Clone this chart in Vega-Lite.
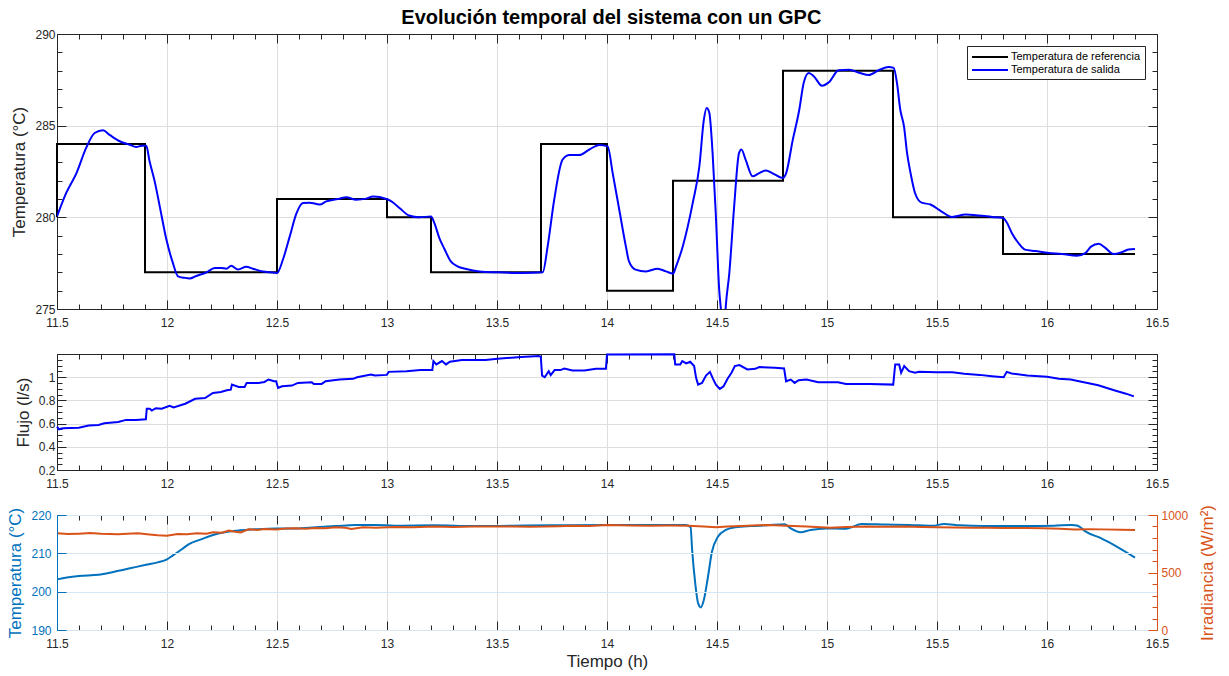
{
  "$schema": "https://vega.github.io/schema/vega-lite/v6.json",
  "padding": {"left": 6, "top": 8, "right": 4, "bottom": 4},
  "title": {"text": "Evolución temporal del sistema con un GPC", "font": "Liberation Sans", "fontSize": 20, "fontWeight": "bold", "color": "#000000", "anchor": "middle", "offset": 0},
  "bounds": "flush",
  "spacing": 45,
  "datasets": {
    "ref": [
      {"t": 11.5, "T": 280}, {"t": 11.5, "T": 284}, {"t": 11.9, "T": 277}, {"t": 12.5, "T": 281}, {"t": 13.0, "T": 280}, {"t": 13.2, "T": 277}, {"t": 13.7, "T": 284}, {"t": 14.0, "T": 276}, {"t": 14.3, "T": 282}, {"t": 14.8, "T": 288}, {"t": 15.3, "T": 280}, {"t": 15.8, "T": 278}, {"t": 16.4, "T": 278}
    ],
    "salida": [
      {"t": 11.5, "T": 280.05}, {"t": 11.542, "T": 281.33}, {"t": 11.588, "T": 282.4}, {"t": 11.633, "T": 283.8}, {"t": 11.671, "T": 284.6}, {"t": 11.709, "T": 284.75}, {"t": 11.739, "T": 284.5}, {"t": 11.785, "T": 284.15}, {"t": 11.83, "T": 283.96}, {"t": 11.86, "T": 283.84}, {"t": 11.885, "T": 283.9}, {"t": 11.906, "T": 283.9}, {"t": 11.92, "T": 283.1}, {"t": 11.944, "T": 281.96}, {"t": 11.967, "T": 280.6}, {"t": 11.997, "T": 278.8}, {"t": 12.027, "T": 277.5}, {"t": 12.05, "T": 276.78}, {"t": 12.08, "T": 276.7}, {"t": 12.103, "T": 276.67}, {"t": 12.133, "T": 276.8}, {"t": 12.18, "T": 277.0}, {"t": 12.217, "T": 277.24}, {"t": 12.247, "T": 277.24}, {"t": 12.27, "T": 277.2}, {"t": 12.292, "T": 277.36}, {"t": 12.323, "T": 277.15}, {"t": 12.36, "T": 277.3}, {"t": 12.39, "T": 277.2}, {"t": 12.436, "T": 277.05}, {"t": 12.467, "T": 277.0}, {"t": 12.5, "T": 276.96}, {"t": 12.527, "T": 277.7}, {"t": 12.558, "T": 278.96}, {"t": 12.588, "T": 280.2}, {"t": 12.618, "T": 280.78}, {"t": 12.648, "T": 280.8}, {"t": 12.694, "T": 280.7}, {"t": 12.724, "T": 280.87}, {"t": 12.785, "T": 281.02}, {"t": 12.815, "T": 281.1}, {"t": 12.86, "T": 280.96}, {"t": 12.906, "T": 281.02}, {"t": 12.936, "T": 281.13}, {"t": 12.997, "T": 281.0}, {"t": 13.02, "T": 280.87}, {"t": 13.058, "T": 280.5}, {"t": 13.1, "T": 280.1}, {"t": 13.147, "T": 280.0}, {"t": 13.2, "T": 280.05}, {"t": 13.215, "T": 279.7}, {"t": 13.238, "T": 278.87}, {"t": 13.26, "T": 278.3}, {"t": 13.29, "T": 277.6}, {"t": 13.32, "T": 277.33}, {"t": 13.36, "T": 277.18}, {"t": 13.42, "T": 277.05}, {"t": 13.51, "T": 277.0}, {"t": 13.617, "T": 276.96}, {"t": 13.708, "T": 277.0}, {"t": 13.73, "T": 278.4}, {"t": 13.76, "T": 280.96}, {"t": 13.798, "T": 283.15}, {"t": 13.83, "T": 283.4}, {"t": 13.874, "T": 283.4}, {"t": 13.92, "T": 283.7}, {"t": 13.965, "T": 283.95}, {"t": 14.003, "T": 283.87}, {"t": 14.026, "T": 282.4}, {"t": 14.056, "T": 280.4}, {"t": 14.086, "T": 278.4}, {"t": 14.1, "T": 277.6}, {"t": 14.13, "T": 277.15}, {"t": 14.177, "T": 277.05}, {"t": 14.23, "T": 277.2}, {"t": 14.268, "T": 277.05}, {"t": 14.3, "T": 276.93}, {"t": 14.314, "T": 277.33}, {"t": 14.344, "T": 278.4}, {"t": 14.39, "T": 280.8}, {"t": 14.42, "T": 282.8}, {"t": 14.44, "T": 285.3}, {"t": 14.453, "T": 285.96}, {"t": 14.465, "T": 285.7}, {"t": 14.48, "T": 283.5}, {"t": 14.495, "T": 280.05}, {"t": 14.51, "T": 276.05}, {"t": 14.518, "T": 274.96}, {"t": 14.527, "T": 273.8}, {"t": 14.535, "T": 274.2}, {"t": 14.54, "T": 275.15}, {"t": 14.556, "T": 276.96}, {"t": 14.578, "T": 280.6}, {"t": 14.6, "T": 283.5}, {"t": 14.611, "T": 283.7}, {"t": 14.63, "T": 283.15}, {"t": 14.662, "T": 282.24}, {"t": 14.69, "T": 282.4}, {"t": 14.723, "T": 282.56}, {"t": 14.753, "T": 282.4}, {"t": 14.799, "T": 282.15}, {"t": 14.814, "T": 282.4}, {"t": 14.844, "T": 284.2}, {"t": 14.874, "T": 285.87}, {"t": 14.894, "T": 287.33}, {"t": 14.917, "T": 287.87}, {"t": 14.94, "T": 287.7}, {"t": 14.977, "T": 287.18}, {"t": 15.008, "T": 287.36}, {"t": 15.053, "T": 288.02}, {"t": 15.1, "T": 288.05}, {"t": 15.15, "T": 287.87}, {"t": 15.19, "T": 287.76}, {"t": 15.235, "T": 288.02}, {"t": 15.28, "T": 288.2}, {"t": 15.303, "T": 288.15}, {"t": 15.318, "T": 287.33}, {"t": 15.333, "T": 285.87}, {"t": 15.35, "T": 284.96}, {"t": 15.364, "T": 283.5}, {"t": 15.38, "T": 282.4}, {"t": 15.4, "T": 281.33}, {"t": 15.43, "T": 280.8}, {"t": 15.47, "T": 280.7}, {"t": 15.523, "T": 280.3}, {"t": 15.568, "T": 280.02}, {"t": 15.63, "T": 280.15}, {"t": 15.69, "T": 280.1}, {"t": 15.75, "T": 280.02}, {"t": 15.8, "T": 279.96}, {"t": 15.818, "T": 279.7}, {"t": 15.84, "T": 279.15}, {"t": 15.87, "T": 278.6}, {"t": 15.9, "T": 278.24}, {"t": 15.947, "T": 278.16}, {"t": 16.008, "T": 278.05}, {"t": 16.068, "T": 278.0}, {"t": 16.136, "T": 277.9}, {"t": 16.174, "T": 278.05}, {"t": 16.2, "T": 278.4}, {"t": 16.235, "T": 278.56}, {"t": 16.265, "T": 278.33}, {"t": 16.303, "T": 278.0}, {"t": 16.34, "T": 278.1}, {"t": 16.37, "T": 278.24}, {"t": 16.4, "T": 278.27}
    ],
    "flujo": [
      {"t": 11.5, "F": 0.574}, {"t": 11.509, "F": 0.551}, {"t": 11.527, "F": 0.559}, {"t": 11.599, "F": 0.565}, {"t": 11.644, "F": 0.583}, {"t": 11.689, "F": 0.588}, {"t": 11.715, "F": 0.603}, {"t": 11.778, "F": 0.614}, {"t": 11.814, "F": 0.632}, {"t": 11.859, "F": 0.632}, {"t": 11.904, "F": 0.638}, {"t": 11.908, "F": 0.728}, {"t": 11.922, "F": 0.728}, {"t": 11.931, "F": 0.713}, {"t": 11.949, "F": 0.733}, {"t": 11.976, "F": 0.728}, {"t": 12.012, "F": 0.754}, {"t": 12.03, "F": 0.739}, {"t": 12.083, "F": 0.771}, {"t": 12.128, "F": 0.814}, {"t": 12.173, "F": 0.82}, {"t": 12.209, "F": 0.864}, {"t": 12.245, "F": 0.872}, {"t": 12.272, "F": 0.887}, {"t": 12.29, "F": 0.893}, {"t": 12.295, "F": 0.936}, {"t": 12.326, "F": 0.916}, {"t": 12.353, "F": 0.916}, {"t": 12.362, "F": 0.951}, {"t": 12.416, "F": 0.951}, {"t": 12.443, "F": 0.959}, {"t": 12.461, "F": 0.98}, {"t": 12.487, "F": 0.965}, {"t": 12.496, "F": 0.965}, {"t": 12.505, "F": 0.907}, {"t": 12.523, "F": 0.922}, {"t": 12.568, "F": 0.928}, {"t": 12.595, "F": 0.951}, {"t": 12.658, "F": 0.957}, {"t": 12.667, "F": 0.942}, {"t": 12.703, "F": 0.942}, {"t": 12.721, "F": 0.965}, {"t": 12.784, "F": 0.98}, {"t": 12.846, "F": 0.986}, {"t": 12.864, "F": 1.0}, {"t": 12.927, "F": 1.023}, {"t": 12.945, "F": 1.014}, {"t": 12.999, "F": 1.02}, {"t": 13.008, "F": 1.046}, {"t": 13.089, "F": 1.052}, {"t": 13.152, "F": 1.061}, {"t": 13.206, "F": 1.061}, {"t": 13.211, "F": 1.139}, {"t": 13.224, "F": 1.11}, {"t": 13.25, "F": 1.139}, {"t": 13.268, "F": 1.11}, {"t": 13.286, "F": 1.133}, {"t": 13.34, "F": 1.148}, {"t": 13.448, "F": 1.148}, {"t": 13.502, "F": 1.159}, {"t": 13.61, "F": 1.174}, {"t": 13.69, "F": 1.183}, {"t": 13.699, "F": 1.177}, {"t": 13.705, "F": 1.014}, {"t": 13.717, "F": 1.0}, {"t": 13.735, "F": 1.052}, {"t": 13.744, "F": 1.017}, {"t": 13.762, "F": 1.061}, {"t": 13.788, "F": 1.061}, {"t": 13.806, "F": 1.075}, {"t": 13.843, "F": 1.058}, {"t": 13.897, "F": 1.058}, {"t": 13.95, "F": 1.072}, {"t": 13.995, "F": 1.072}, {"t": 14.0, "F": 1.196}, {"t": 14.306, "F": 1.197}, {"t": 14.31, "F": 1.11}, {"t": 14.333, "F": 1.11}, {"t": 14.342, "F": 1.139}, {"t": 14.36, "F": 1.119}, {"t": 14.378, "F": 1.133}, {"t": 14.396, "F": 1.096}, {"t": 14.405, "F": 0.994}, {"t": 14.414, "F": 0.936}, {"t": 14.432, "F": 0.951}, {"t": 14.45, "F": 1.014}, {"t": 14.468, "F": 1.046}, {"t": 14.482, "F": 0.986}, {"t": 14.495, "F": 0.936}, {"t": 14.513, "F": 0.899}, {"t": 14.53, "F": 0.922}, {"t": 14.548, "F": 0.986}, {"t": 14.566, "F": 1.038}, {"t": 14.581, "F": 1.096}, {"t": 14.602, "F": 1.104}, {"t": 14.638, "F": 1.067}, {"t": 14.674, "F": 1.072}, {"t": 14.692, "F": 1.087}, {"t": 14.763, "F": 1.081}, {"t": 14.805, "F": 1.075}, {"t": 14.814, "F": 0.965}, {"t": 14.835, "F": 0.98}, {"t": 14.853, "F": 0.951}, {"t": 14.871, "F": 0.974}, {"t": 14.907, "F": 0.98}, {"t": 14.96, "F": 0.957}, {"t": 15.05, "F": 0.957}, {"t": 15.086, "F": 0.942}, {"t": 15.194, "F": 0.942}, {"t": 15.301, "F": 0.936}, {"t": 15.31, "F": 1.11}, {"t": 15.328, "F": 1.11}, {"t": 15.337, "F": 1.038}, {"t": 15.351, "F": 1.096}, {"t": 15.373, "F": 1.052}, {"t": 15.4, "F": 1.038}, {"t": 15.418, "F": 1.046}, {"t": 15.498, "F": 1.043}, {"t": 15.57, "F": 1.043}, {"t": 15.624, "F": 1.029}, {"t": 15.695, "F": 1.02}, {"t": 15.749, "F": 1.009}, {"t": 15.803, "F": 1.0}, {"t": 15.817, "F": 1.046}, {"t": 15.839, "F": 1.032}, {"t": 15.91, "F": 1.014}, {"t": 16.0, "F": 1.003}, {"t": 16.054, "F": 0.986}, {"t": 16.108, "F": 0.98}, {"t": 16.162, "F": 0.959}, {"t": 16.233, "F": 0.93}, {"t": 16.305, "F": 0.887}, {"t": 16.359, "F": 0.858}, {"t": 16.395, "F": 0.835}
    ],
    "tcampo": [
      {"t": 11.5, "Tc": 203.2}, {"t": 11.545, "Tc": 203.7}, {"t": 11.599, "Tc": 204.1}, {"t": 11.689, "Tc": 204.4}, {"t": 11.76, "Tc": 205.2}, {"t": 11.832, "Tc": 206.1}, {"t": 11.904, "Tc": 207.0}, {"t": 11.958, "Tc": 207.65}, {"t": 12.0, "Tc": 208.4}, {"t": 12.03, "Tc": 209.6}, {"t": 12.066, "Tc": 211.0}, {"t": 12.1, "Tc": 212.4}, {"t": 12.155, "Tc": 213.65}, {"t": 12.209, "Tc": 214.8}, {"t": 12.263, "Tc": 215.5}, {"t": 12.317, "Tc": 215.9}, {"t": 12.407, "Tc": 216.3}, {"t": 12.496, "Tc": 216.5}, {"t": 12.586, "Tc": 216.5}, {"t": 12.676, "Tc": 216.8}, {"t": 12.766, "Tc": 217.1}, {"t": 12.856, "Tc": 217.4}, {"t": 12.945, "Tc": 217.4}, {"t": 13.035, "Tc": 217.2}, {"t": 13.215, "Tc": 217.3}, {"t": 13.394, "Tc": 217.1}, {"t": 13.573, "Tc": 217.2}, {"t": 13.753, "Tc": 217.3}, {"t": 14.0, "Tc": 217.4}, {"t": 14.36, "Tc": 217.4}, {"t": 14.38, "Tc": 216.8}, {"t": 14.387, "Tc": 210.9}, {"t": 14.401, "Tc": 202.2}, {"t": 14.414, "Tc": 197.0}, {"t": 14.427, "Tc": 195.9}, {"t": 14.44, "Tc": 197.8}, {"t": 14.459, "Tc": 203.9}, {"t": 14.477, "Tc": 210.4}, {"t": 14.504, "Tc": 214.3}, {"t": 14.54, "Tc": 216.1}, {"t": 14.584, "Tc": 216.8}, {"t": 14.656, "Tc": 217.1}, {"t": 14.728, "Tc": 217.3}, {"t": 14.808, "Tc": 217.6}, {"t": 14.835, "Tc": 216.5}, {"t": 14.88, "Tc": 215.5}, {"t": 14.925, "Tc": 216.1}, {"t": 14.995, "Tc": 216.5}, {"t": 15.086, "Tc": 216.4}, {"t": 15.158, "Tc": 217.65}, {"t": 15.265, "Tc": 217.5}, {"t": 15.373, "Tc": 217.4}, {"t": 15.48, "Tc": 217.2}, {"t": 15.532, "Tc": 217.65}, {"t": 15.604, "Tc": 217.3}, {"t": 15.713, "Tc": 217.1}, {"t": 15.892, "Tc": 217.1}, {"t": 16.032, "Tc": 217.2}, {"t": 16.113, "Tc": 217.4}, {"t": 16.14, "Tc": 217.2}, {"t": 16.176, "Tc": 215.65}, {"t": 16.247, "Tc": 213.9}, {"t": 16.319, "Tc": 211.7}, {"t": 16.4, "Tc": 208.9}
    ],
    "irr": [
      {"t": 11.5, "I": 841}, {"t": 11.55, "I": 835}, {"t": 11.6, "I": 838}, {"t": 11.65, "I": 843}, {"t": 11.7, "I": 836}, {"t": 11.778, "I": 832}, {"t": 11.82, "I": 838}, {"t": 11.868, "I": 841}, {"t": 11.92, "I": 830}, {"t": 11.958, "I": 823}, {"t": 12.0, "I": 820}, {"t": 12.048, "I": 835}, {"t": 12.09, "I": 832}, {"t": 12.137, "I": 841}, {"t": 12.18, "I": 838}, {"t": 12.209, "I": 849}, {"t": 12.25, "I": 845}, {"t": 12.281, "I": 864}, {"t": 12.31, "I": 855}, {"t": 12.335, "I": 849}, {"t": 12.371, "I": 875}, {"t": 12.41, "I": 870}, {"t": 12.443, "I": 878}, {"t": 12.496, "I": 875}, {"t": 12.54, "I": 882}, {"t": 12.586, "I": 884}, {"t": 12.63, "I": 880}, {"t": 12.676, "I": 887}, {"t": 12.72, "I": 884}, {"t": 12.766, "I": 893}, {"t": 12.81, "I": 890}, {"t": 12.838, "I": 878}, {"t": 12.891, "I": 893}, {"t": 12.95, "I": 890}, {"t": 13.035, "I": 896}, {"t": 13.12, "I": 893}, {"t": 13.215, "I": 899}, {"t": 13.3, "I": 896}, {"t": 13.394, "I": 901}, {"t": 13.48, "I": 899}, {"t": 13.573, "I": 901}, {"t": 13.65, "I": 898}, {"t": 13.717, "I": 899}, {"t": 13.78, "I": 903}, {"t": 13.843, "I": 907}, {"t": 13.92, "I": 905}, {"t": 14.0, "I": 913}, {"t": 14.1, "I": 909}, {"t": 14.19, "I": 907}, {"t": 14.28, "I": 908}, {"t": 14.37, "I": 907}, {"t": 14.44, "I": 900}, {"t": 14.495, "I": 893}, {"t": 14.548, "I": 899}, {"t": 14.638, "I": 907}, {"t": 14.728, "I": 913}, {"t": 14.817, "I": 907}, {"t": 14.907, "I": 899}, {"t": 15.014, "I": 890}, {"t": 15.09, "I": 896}, {"t": 15.175, "I": 899}, {"t": 15.26, "I": 897}, {"t": 15.355, "I": 899}, {"t": 15.43, "I": 895}, {"t": 15.498, "I": 893}, {"t": 15.58, "I": 892}, {"t": 15.659, "I": 890}, {"t": 15.73, "I": 889}, {"t": 15.803, "I": 887}, {"t": 15.9, "I": 886}, {"t": 15.982, "I": 884}, {"t": 16.06, "I": 880}, {"t": 16.125, "I": 875}, {"t": 16.19, "I": 876}, {"t": 16.247, "I": 875}, {"t": 16.337, "I": 872}, {"t": 16.4, "I": 870}
    ]
  },
  "vconcat": [
    {
      "width": 1100,
      "height": 275,
      "layer": [
        {
          "data": {"name": "ref"},
          "mark": {"type": "line", "interpolate": "step-after", "strokeWidth": 2},
          "encoding": {
            "x": {"field": "t", "type": "quantitative", "scale": {"domain": [11.5, 16.5], "nice": false, "zero": false},
              "axis": {"orient": "bottom", "title": null, "values": [11.5,11.6,11.7,11.8,11.9,12,12.1,12.2,12.3,12.4,12.5,12.6,12.7,12.8,12.9,13,13.1,13.2,13.3,13.4,13.5,13.6,13.7,13.8,13.9,14,14.1,14.2,14.3,14.4,14.5,14.6,14.7,14.8,14.9,15,15.1,15.2,15.3,15.4,15.5,15.6,15.7,15.8,15.9,16,16.1,16.2,16.3,16.4,16.5],
                "labelExpr": "abs(datum.value*2-round(datum.value*2))<0.001 ? format(datum.value, '~g') : ''",
                "tickSize": {"condition": {"test": "abs(datum.value*2-round(datum.value*2))<0.001", "value": -9}, "value": -5},
                "grid": true,
                "gridOpacity": {"condition": {"test": "abs(datum.value*2-round(datum.value*2))<0.001", "value": 1}, "value": 0},
                "labelPadding": 17}},
            "y": {"field": "T", "type": "quantitative", "scale": {"domain": [275, 290], "nice": false, "zero": false},
              "axis": {"orient": "left", "title": "Temperatura (°C)", "titlePadding": 6, "values": [275,276,277,278,279,280,281,282,283,284,285,286,287,288,289,290],
                "labelExpr": "datum.value % 5 == 0 ? format(datum.value, '~g') : ''",
                "tickSize": {"condition": {"test": "datum.value % 5 == 0", "value": -9}, "value": -5},
                "grid": true,
                "gridOpacity": {"condition": {"test": "datum.value % 5 == 0", "value": 1}, "value": 0},
                "labelPadding": 11}},
            "color": {"datum": "Temperatura de referencia", "type": "nominal",
              "scale": {"domain": ["Temperatura de referencia", "Temperatura de salida"], "range": ["#000000", "#0000ff"]},
              "legend": {"orient": "top-right", "offset": 12, "title": null}}
          }
        },
        {
          "data": {"name": "salida"},
          "mark": {"type": "line", "strokeWidth": 2, "clip": true, "interpolate": "monotone"},
          "encoding": {
            "x": {"field": "t", "type": "quantitative",
              "axis": {"orient": "top", "title": null, "labels": false, "grid": false, "values": [11.5,11.6,11.7,11.8,11.9,12,12.1,12.2,12.3,12.4,12.5,12.6,12.7,12.8,12.9,13,13.1,13.2,13.3,13.4,13.5,13.6,13.7,13.8,13.9,14,14.1,14.2,14.3,14.4,14.5,14.6,14.7,14.8,14.9,15,15.1,15.2,15.3,15.4,15.5,15.6,15.7,15.8,15.9,16,16.1,16.2,16.3,16.4,16.5],
                "tickSize": {"condition": {"test": "abs(datum.value*2-round(datum.value*2))<0.001", "value": -9}, "value": -5}}},
            "y": {"field": "T", "type": "quantitative",
              "axis": {"orient": "right", "title": null, "labels": false, "grid": false, "values": [275,276,277,278,279,280,281,282,283,284,285,286,287,288,289,290],
                "tickSize": {"condition": {"test": "datum.value % 5 == 0", "value": -9}, "value": -5}}},
            "color": {"datum": "Temperatura de salida", "type": "nominal"}
          }
        }
      ],
      "resolve": {"axis": {"x": "independent", "y": "independent"}}
    },
    {
      "width": 1100,
      "height": 116,
      "layer": [
        {
          "data": {"name": "flujo"},
          "mark": {"type": "line", "strokeWidth": 2, "color": "#0000ff"},
          "encoding": {
            "x": {"field": "t", "type": "quantitative", "scale": {"domain": [11.5, 16.5], "nice": false, "zero": false},
              "axis": {"orient": "bottom", "title": null, "values": [11.5,11.6,11.7,11.8,11.9,12,12.1,12.2,12.3,12.4,12.5,12.6,12.7,12.8,12.9,13,13.1,13.2,13.3,13.4,13.5,13.6,13.7,13.8,13.9,14,14.1,14.2,14.3,14.4,14.5,14.6,14.7,14.8,14.9,15,15.1,15.2,15.3,15.4,15.5,15.6,15.7,15.8,15.9,16,16.1,16.2,16.3,16.4,16.5],
                "labelExpr": "abs(datum.value*2-round(datum.value*2))<0.001 ? format(datum.value, '~g') : ''",
                "tickSize": {"condition": {"test": "abs(datum.value*2-round(datum.value*2))<0.001", "value": -9}, "value": -5},
                "grid": true,
                "gridOpacity": {"condition": {"test": "abs(datum.value*2-round(datum.value*2))<0.001", "value": 1}, "value": 0},
                "labelPadding": 17}},
            "y": {"field": "F", "type": "quantitative", "scale": {"domain": [0.2, 1.2], "nice": false, "zero": false},
              "axis": {"orient": "left", "title": "Flujo (l/s)", "titlePadding": 6, "values": [0.2,0.25,0.3,0.35,0.4,0.45,0.5,0.55,0.6,0.65,0.7,0.75,0.8,0.85,0.9,0.95,1,1.05,1.1,1.15,1.2],
                "labelExpr": "abs(datum.value*5-round(datum.value*5))<0.001 && datum.value < 1.1 ? format(datum.value, '~g') : ''",
                "tickSize": {"condition": {"test": "abs(datum.value*5-round(datum.value*5))<0.001", "value": -9}, "value": -5},
                "grid": true,
                "gridOpacity": {"condition": {"test": "abs(datum.value*5-round(datum.value*5))<0.001", "value": 1}, "value": 0},
                "labelPadding": 11}}
          }
        },
        {
          "data": {"name": "flujo"},
          "mark": {"type": "line", "strokeWidth": 2, "opacity": 0},
          "encoding": {
            "x": {"field": "t", "type": "quantitative",
              "axis": {"orient": "top", "title": null, "labels": false, "grid": false, "values": [11.5,11.6,11.7,11.8,11.9,12,12.1,12.2,12.3,12.4,12.5,12.6,12.7,12.8,12.9,13,13.1,13.2,13.3,13.4,13.5,13.6,13.7,13.8,13.9,14,14.1,14.2,14.3,14.4,14.5,14.6,14.7,14.8,14.9,15,15.1,15.2,15.3,15.4,15.5,15.6,15.7,15.8,15.9,16,16.1,16.2,16.3,16.4,16.5],
                "tickSize": {"condition": {"test": "abs(datum.value*2-round(datum.value*2))<0.001", "value": -9}, "value": -5}}},
            "y": {"field": "F", "type": "quantitative",
              "axis": {"orient": "right", "title": null, "labels": false, "grid": false, "values": [0.2,0.25,0.3,0.35,0.4,0.45,0.5,0.55,0.6,0.65,0.7,0.75,0.8,0.85,0.9,0.95,1,1.05,1.1,1.15,1.2],
                "tickSize": {"condition": {"test": "abs(datum.value*5-round(datum.value*5))<0.001", "value": -9}, "value": -5}}}
          }
        }
      ],
      "resolve": {"axis": {"x": "independent", "y": "independent"}}
    },
    {
      "width": 1100,
      "height": 115,
      "layer": [
        {
          "data": {"name": "tcampo"},
          "mark": {"type": "line", "strokeWidth": 2, "color": "#0072bd", "interpolate": "monotone"},
          "encoding": {
            "x": {"field": "t", "type": "quantitative", "scale": {"domain": [11.5, 16.5], "nice": false, "zero": false},
              "axis": {"orient": "bottom", "title": "Tiempo (h)", "values": [11.5,11.6,11.7,11.8,11.9,12,12.1,12.2,12.3,12.4,12.5,12.6,12.7,12.8,12.9,13,13.1,13.2,13.3,13.4,13.5,13.6,13.7,13.8,13.9,14,14.1,14.2,14.3,14.4,14.5,14.6,14.7,14.8,14.9,15,15.1,15.2,15.3,15.4,15.5,15.6,15.7,15.8,15.9,16,16.1,16.2,16.3,16.4,16.5],
                "labelExpr": "abs(datum.value*2-round(datum.value*2))<0.001 ? format(datum.value, '~g') : ''",
                "tickSize": {"condition": {"test": "abs(datum.value*2-round(datum.value*2))<0.001", "value": -9}, "value": -5},
                "grid": true,
                "gridOpacity": {"condition": {"test": "abs(datum.value*2-round(datum.value*2))<0.001", "value": 1}, "value": 0},
                "labelPadding": 17, "titlePadding": 0}},
            "y": {"field": "Tc", "type": "quantitative", "scale": {"domain": [190, 220], "nice": false, "zero": false},
              "axis": {"orient": "left", "title": "Temperatura (°C)", "titlePadding": 6, "values": [190, 200, 210, 220], "labelExpr": "format(datum.value, 'd')",
                "tickSize": -9, "grid": true, "gridColor": "#d5e7f4",
                "labelColor": "#0072bd", "titleColor": "#0072bd", "domainColor": "#0072bd", "tickColor": "#0072bd", "zindex": 1,
                "labelPadding": 15}}
          }
        },
        {
          "data": {"name": "irr"},
          "mark": {"type": "line", "strokeWidth": 2, "color": "#d95319"},
          "encoding": {
            "x": {"field": "t", "type": "quantitative",
              "axis": {"orient": "top", "title": null, "labels": false, "grid": false, "values": [11.5,11.6,11.7,11.8,11.9,12,12.1,12.2,12.3,12.4,12.5,12.6,12.7,12.8,12.9,13,13.1,13.2,13.3,13.4,13.5,13.6,13.7,13.8,13.9,14,14.1,14.2,14.3,14.4,14.5,14.6,14.7,14.8,14.9,15,15.1,15.2,15.3,15.4,15.5,15.6,15.7,15.8,15.9,16,16.1,16.2,16.3,16.4,16.5],
                "tickSize": {"condition": {"test": "abs(datum.value*2-round(datum.value*2))<0.001", "value": -9}, "value": -5}}},
            "y": {"field": "I", "type": "quantitative", "scale": {"domain": [0, 1000], "nice": false},
              "axis": {"orient": "right", "title": "Irradiancia (W/m²)", "titleAngle": 270, "titleBaseline": "top", "titlePadding": 12, "values": [0,100,200,300,400,500,600,700,800,900,1000],
                "labelExpr": "datum.value % 500 == 0 ? format(datum.value, 'd') : ''",
                "tickSize": {"condition": {"test": "datum.value % 500 == 0", "value": -9}, "value": -5},
                "grid": false,
                "labelColor": "#d95319", "titleColor": "#d95319", "domainColor": "#d95319", "tickColor": "#d95319", "zindex": 1,
                "labelPadding": 13}}
          }
        }
      ],
      "resolve": {"scale": {"y": "independent"}, "axis": {"x": "independent"}}
    }
  ],
  "config": {
    "font": "Liberation Sans",
    "view": {"stroke": null},
    "axis": {
      "labelFont": "Liberation Sans", "labelFontSize": 12, "labelColor": "#262626",
      "titleFont": "Liberation Sans", "titleFontSize": 17, "titleFontWeight": "normal", "titleColor": "#262626",
      "domainColor": "#262626", "tickColor": "#262626", "gridColor": "#dedede",
      "labelOverlap": false, "labelFlush": false, "labelBound": false
    },
    "legend": {
      "labelFont": "Liberation Sans", "labelFontSize": 11, "labelColor": "#000000",
      "symbolType": "M-1,0H5", "symbolSize": 144, "symbolStrokeWidth": 2,
      "strokeColor": "#262626", "fillColor": "#ffffff", "padding": 4, "rowPadding": 1, "labelOffset": 26
    }
  }
}
